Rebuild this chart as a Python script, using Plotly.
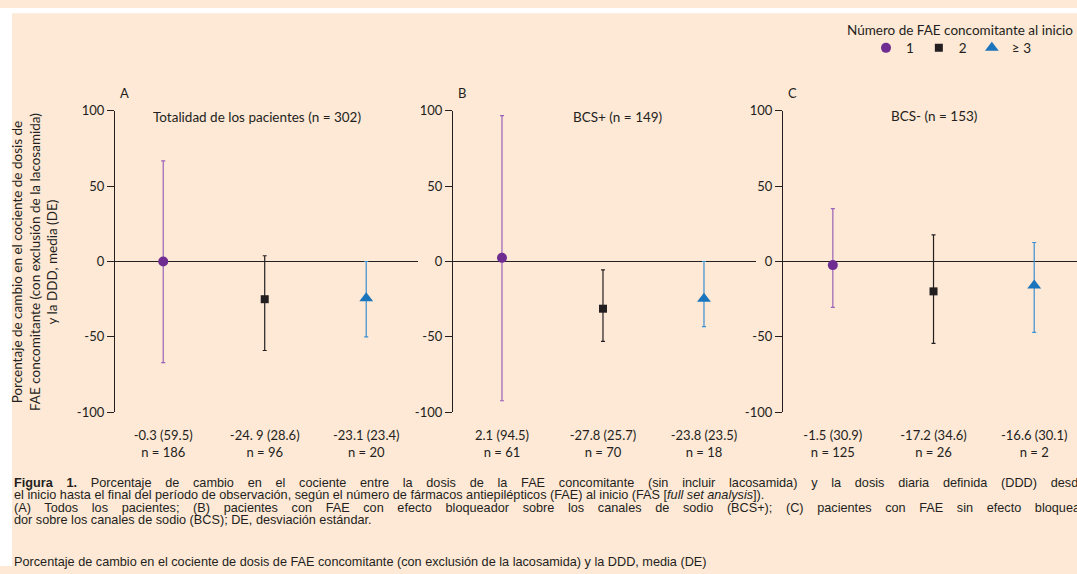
import plotly.graph_objects as go

W, H = 1077, 574

# ---------------- data ----------------
groups = ["1", "2", "≥ 3"]
categories = [1, 2, 3]

# panel A: Totalidad de los pacientes
a_mean = [0.0, -25.0, -24.3]
a_hi = [66.7, 3.8, 0.0]
a_lo = [-67.0, -59.0, -50.0]
a_labels = ["-0.3 (59.5)<br>n = 186", "-24. 9 (28.6)<br>n = 96", "-23.1 (23.4)<br>n = 20"]

# panel B: BCS+
b_mean = [2.4, -31.3, -24.7]
b_hi = [96.7, -5.5, 0.0]
b_lo = [-92.3, -53.0, -43.2]
b_labels = ["2.1 (94.5)<br>n = 61", "-27.8 (25.7)<br>n = 70", "-23.8 (23.5)<br>n = 18"]

# panel C: BCS-
c_mean = [-2.4, -19.8, -15.9]
c_hi = [35.1, 17.6, 12.6]
c_lo = [-30.4, -54.3, -47.0]
c_labels = ["-1.5 (30.9)<br>n = 125", "-17.2 (34.6)<br>n = 26", "-16.6 (30.1)<br>n = 2"]

panel_letters = ["A", "B", "C"]
panel_titles = ["Totalidad de los pacientes (n = 302)", "BCS+ (n = 149)", "BCS- (n = 153)"]
y_ticks = [-100, -50, 0, 50, 100]
y_ticktext = ["-100", "-50", "0", "50", "100"]
legend_title = "Número de FAE concomitante al inicio"

marker_colors = ["#6f2c91", "#231f20", "#1b75bc"]
bar_colors = ["#9a62b8", "#231f20", "#3b8fd3"]
symbols = ["circle", "square", "triangle-up"]
sizes = [10, 8, 12]

INK = "#231f20"
CHART_FONT = "Lato"
CAPTION_FONT = "Liberation Sans"
FS = 13
FS_T = 13.5

fig = go.Figure()

panels = [(a_mean, a_hi, a_lo, a_labels), (b_mean, b_hi, b_lo, b_labels), (c_mean, c_hi, c_lo, c_labels)]
for p, (mean, hi, lo, labels) in enumerate(panels):
    xa = "x" if p == 0 else f"x{p+1}"
    ya = "y" if p == 0 else f"y{p+1}"
    for g in range(3):
        fig.add_trace(go.Scatter(
            x=[categories[g]], y=[mean[g]],
            xaxis=xa, yaxis=ya,
            mode="markers",
            name=groups[g],
            legendgroup=groups[g],
            showlegend=(p == 0),
            marker=dict(symbol=symbols[g], size=sizes[g], color=marker_colors[g],
                        line=dict(width=0)),
            error_y=dict(type="data", symmetric=False,
                         array=[hi[g] - mean[g]], arrayminus=[mean[g] - lo[g]],
                         color=bar_colors[g], thickness=1.2, width=2),
            cliponaxis=False,
        ))

def px_x(v):
    return v / W

def px_y(v):
    # target pixel row -> paper fraction (accounts for the page offset seen in the capture)
    return 1 - (v / 0.973 - 8) / H

y_dom = [px_y(412.5), px_y(110.5)]
x_doms = [[px_x(115), px_x(418)], [px_x(453), px_x(756)], [px_x(783), 1.0]]
x_ranges = [[0.525, 3.51], [0.515, 3.515], [0.505, 3.425]]

for p in range(3):
    sfx = "" if p == 0 else str(p + 1)
    labels = panels[p][3]
    fig.update_layout(**{
        f"xaxis{sfx}": dict(domain=x_doms[p], range=x_ranges[p], anchor=f"y{sfx}",
                            showgrid=False, zeroline=False, showline=False,
                            tickvals=categories, ticktext=labels, ticks="",
                            ticklabelstandoff=14,
                            tickfont=dict(family=CHART_FONT, size=FS, color=INK)),
        f"yaxis{sfx}": dict(domain=y_dom, range=[-100, 100], anchor=f"x{sfx}",
                            showgrid=False, zeroline=True, zerolinecolor=INK, zerolinewidth=1.3,
                            showline=True, linecolor=INK, linewidth=1.3,
                            ticks="outside", ticklen=7, tickwidth=1.3, tickcolor=INK,
                            tickvals=y_ticks, ticktext=y_ticktext,
                            tickfont=dict(family=CHART_FONT, size=FS, color=INK)),
    })

annotations = []
letter_x = [118, 456, 786]
title_x = [257, 617, 934]
title_y = [116.5, 117, 116]
for p in range(3):
    annotations.append(dict(x=px_x(letter_x[p]), y=px_y(93), xref="paper", yref="paper",
                            text=panel_letters[p], showarrow=False, xanchor="left", yanchor="middle",
                            font=dict(family=CHART_FONT, size=FS, color=INK)))
    annotations.append(dict(x=px_x(title_x[p]), y=px_y(title_y[p]), xref="paper", yref="paper",
                            text=panel_titles[p], showarrow=False, xanchor="center", yanchor="middle",
                            font=dict(family=CHART_FONT, size=FS_T, color=INK)))

annotations.append(dict(x=px_x(35), y=px_y(262), xref="paper", yref="paper",
                        text="Porcentaje de cambio en el cociente de dosis de<br>FAE concomitante (con exclusión de la lacosamida)<br>y la DDD, media (DE)",
                        textangle=-90, showarrow=False, xanchor="center", yanchor="middle",
                        font=dict(family=CHART_FONT, size=FS_T, color=INK)))

# legend title
annotations.append(dict(x=px_x(960), y=px_y(30), xref="paper", yref="paper", text=legend_title,
                        showarrow=False, xanchor="center", yanchor="middle",
                        font=dict(family=CHART_FONT, size=FS_T, color=INK)))

# caption (lines 1 and 3 are justified in the source layout and run past the crop)
caption_lines = [
    (483, "<span style='word-spacing:10.2px'><b>Figura 1.</b> Porcentaje de cambio en el cociente entre la dosis de la FAE concomitante (sin incluir lacosamida) y la dosis diaria definida (DDD) desde</span>"),
    (495.5, "el inicio hasta el final del período de observación, según el número de fármacos antiepilépticos (FAE) al inicio (FAS [<i>full set analysis</i>])."),
    (508, "<span style='word-spacing:10.1px'>(A) Todos los pacientes; (B) pacientes con FAE con efecto bloqueador sobre los canales de sodio (BCS+); (C) pacientes con FAE sin efecto bloquea-</span>"),
    (520.5, "dor sobre los canales de sodio (BCS); DE, desviación estándar."),
    (562, "Porcentaje de cambio en el cociente de dosis de FAE concomitante (con exclusión de la lacosamida) y la DDD, media (DE)"),
]
for yy, txt in caption_lines:
    annotations.append(dict(x=px_x(12), y=px_y(yy), xref="paper", yref="paper", text=txt,
                            showarrow=False, xanchor="left", yanchor="middle",
                            font=dict(family=CAPTION_FONT, size=12.7, color=INK)))

fig.update_layout(
    width=W, height=H,
    margin=dict(l=0, r=0, t=0, b=0),
    paper_bgcolor="#fee8d6",
    plot_bgcolor="rgba(0,0,0,0)",
    annotations=annotations,
    shapes=[
        dict(type="rect", xref="paper", yref="paper", x0=0, x1=px_x(12), y0=0, y1=1,
             fillcolor="white", line=dict(width=0), layer="below"),
        dict(type="rect", xref="paper", yref="paper", x0=0, x1=1, y0=px_y(13), y1=1,
             fillcolor="white", line=dict(width=0), layer="below"),
    ],
    showlegend=True,
    legend=dict(orientation="h", x=px_x(866), y=px_y(32.4), xanchor="left", yanchor="top",
                bgcolor="rgba(0,0,0,0)", itemwidth=30, tracegroupgap=0,
                font=dict(family=CHART_FONT, size=FS_T, color=INK)),
)

fig.write_html(
    "out.html",
    config={"displayModeBar": False},
    post_script=(
        "var s=document.createElement('style');"
        "s.textContent='html,body{margin:0 !important;padding:0 !important;overflow:hidden !important;}';"
        "document.head.appendChild(s);"
    ),
)
